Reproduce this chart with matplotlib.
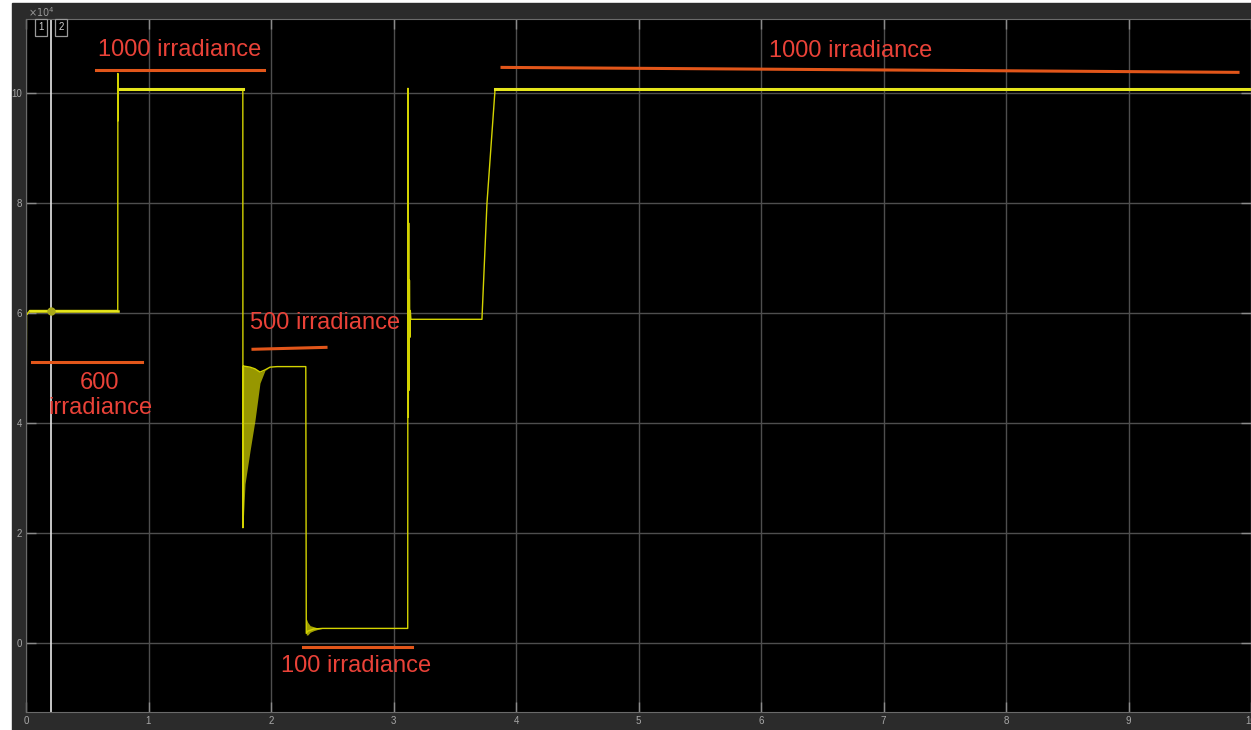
import matplotlib
matplotlib.use("Agg")
import matplotlib.pyplot as plt
from matplotlib.patches import Rectangle

plt.rcParams['font.family'] = ['Liberation Sans', 'DejaVu Sans']

# Scope signal (values in units of 1e4)
sig_t = [0.0, 0.004, 0.008, 0.03, 0.749, 0.750, 0.752, 0.754, 0.767, 1.770,
         1.771, 1.775, 1.829, 1.869, 1.910, 1.951, 1.992, 2.05, 2.284, 2.288,
         2.30, 2.35, 2.42, 3.116, 3.118, 3.121, 3.124, 3.127, 3.130, 3.133,
         3.137, 3.142, 3.722, 3.763, 3.829, 10.0]
sig_y = [3.3, 6.0, 5.98, 6.05, 6.05, 10.36, 9.5, 10.07, 10.08, 10.08,
         2.1, 5.04, 5.02, 4.99, 4.93, 4.97, 5.02, 5.03, 5.03, 0.18,
         0.22, 0.26, 0.27, 0.27, 10.09, 4.11, 7.64, 4.6, 6.6, 5.56,
         6.05, 5.89, 5.89, 8.0, 10.07, 10.08]

# oscillation envelopes after the 1000 -> 500 step
band1_t = [1.771, 1.788, 1.829, 1.869, 1.910, 1.951, 1.992]
band1_lo = [2.1, 2.9, 3.5, 4.05, 4.73, 4.96, 5.02]
band1_hi = [5.04, 5.04, 5.02, 4.99, 4.93, 4.97, 5.02]

# oscillation envelopes after the 500 -> 100 step
band2_t = [2.288, 2.30, 2.32, 2.35, 2.38, 2.42]
band2_lo = [0.15, 0.15, 0.2, 0.23, 0.25, 0.27]
band2_hi = [0.45, 0.38, 0.32, 0.30, 0.28, 0.27]

# segments with visible ripple (thicker trace)
ripple_segs = [([0.767, 1.770], [10.08, 10.08]),
               ([3.829, 10.0], [10.08, 10.08]),
               ([0.03, 0.749], [6.05, 6.05])]

# hand-drawn annotations
labels = ["1000 irradiance", "600\nirradiance", "500 irradiance",
          "100 irradiance", "1000 irradiance"]
label_x = [1.257, 0.604, 2.441, 2.694, 6.735]
label_y = [10.78, 4.51, 5.82, -0.42, 10.76]
mark_x = [(0.571, 1.943), (0.049, 0.947), (1.853, 2.449), (2.265, 3.151), (3.886, 9.894)]
mark_y = [(10.42, 10.42), (5.11, 5.11), (5.345, 5.38), (-0.07, -0.07), (10.47, 10.38)]

cursor_t = 0.204

W, H = 1251, 730
fig = plt.figure(figsize=(W / 100, H / 100), dpi=100, facecolor='white')
fig.patches.append(Rectangle((12 / W, 0), 1 - 12 / W, (H - 3) / H,
                             transform=fig.transFigure, color='#2b2b2b', zorder=-10))

ax = fig.add_axes([26 / W, 18 / H, 1 - 26 / W, (712 - 19) / H])
ax.set_facecolor('black')
ax.set_xlim(0, 10)
ax.set_ylim(-1.25, 11.35)
ax.set_xticks(range(0, 11))
ax.set_yticks([0, 2, 4, 6, 8, 10])
ax.grid(True, color='#4e4e4e', lw=1)
ax.set_axisbelow(True)
for s in ax.spines.values():
    s.set_color('#6a6a6a')
ax.tick_params(direction='in', length=7, width=1, color='#8a8a8a',
               labelcolor='#a8a8a8', labelsize=7, top=True, right=True, pad=3)

# signal
ax.fill_between(band1_t, band1_lo, band1_hi, color='#d8d800', alpha=0.7, lw=0)
ax.fill_between(band2_t, band2_lo, band2_hi, color='#d8d800', alpha=0.75, lw=0)
ax.plot(sig_t, sig_y, color='#d4d400', lw=1.0)
for st, sy in ripple_segs:
    ax.plot(st, sy, color='#e6e61c', lw=2.2 if sy[0] > 8 else 1.8)

# cursor
ax.axvline(cursor_t, color='#e8e8e8', lw=1.2)
ax.plot([cursor_t], [6.05], 'o', color='#a8a818', ms=5)
for num, fx in [("1", 0.0122), ("2", 0.0286)]:
    ax.text(fx, 0.988, num, transform=ax.transAxes, ha='center', va='center',
            fontsize=7, color='#d0d0d0',
            bbox=dict(boxstyle='square,pad=0.35', fc='black', ec='#9a9a9a', lw=0.9))

# annotations
for (x0, x1), (y0, y1) in zip(mark_x, mark_y):
    ax.plot([x0, x1], [y0, y1], color='#e2561a', lw=2.2)
for txt, x, y in zip(labels, label_x, label_y):
    ax.text(x, y, txt, color='#ea4238', fontsize=17, ha='center', va='center',
            linespacing=1.2)

fig.text(28 / W, 1 - 12 / H, r'$\times10^4$', color='#9a9a9a', fontsize=7,
         ha='left', va='center')

fig.savefig("out.png", dpi=100, facecolor=fig.get_facecolor())
